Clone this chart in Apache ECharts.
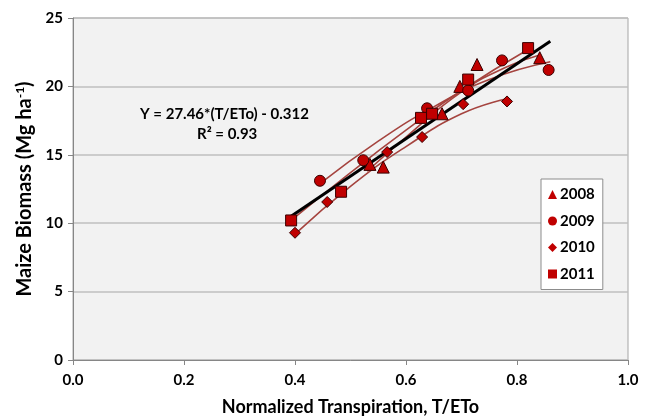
<!DOCTYPE html>
<html>
<head>
<meta charset="utf-8" />
<title>Maize biomass</title>
<script type="text/javascript" src="https://cdn.jsdelivr.net/npm/echarts@6/dist/echarts.min.js"></script>
<style type="text/css">
html, body { margin: 0; width: 100%; height: 100%; background: #fff; }
#main { width: 647px; height: 417px; }
</style>
</head>
<body>
<div id="main"></div>
<script type="text/javascript">
var years = ['2008', '2009', '2010', '2011'];
var symbols = ['triangle', 'circle', 'diamond', 'rect'];
var symbolSizes = [12, 11, 11, 11];

// measured points [T/ETo, biomass]
var pts2008 = [[0.535, 14.3], [0.559, 14.1], [0.665, 18.0], [0.697, 20.0], [0.728, 21.6], [0.841, 22.1]];
var pts2009 = [[0.445, 13.1], [0.523, 14.6], [0.638, 18.4], [0.712, 19.7], [0.773, 21.9], [0.857, 21.2]];
var pts2010 = [[0.400, 9.3], [0.458, 11.55], [0.566, 15.2], [0.629, 16.3], [0.703, 18.7], [0.782, 18.9]];
var pts2011 = [[0.393, 10.2], [0.483, 12.3], [0.627, 17.7], [0.647, 18.0], [0.712, 20.5], [0.820, 22.8]];

// yearly fitted curves
var curve2008 = [[0.53, 13.8], [0.6, 16.3], [0.7, 19.6], [0.78, 21.4], [0.841, 22.3]];
var curve2009 = [[0.445, 12.9], [0.55, 16.0], [0.65, 18.5], [0.75, 20.5], [0.86, 21.8]];
var curve2010 = [[0.40, 9.2], [0.5, 12.7], [0.6, 15.6], [0.7, 18.0], [0.782, 19.1]];
var curve2011 = [[0.393, 10.2], [0.5, 13.7], [0.6, 16.8], [0.7, 19.7], [0.82, 22.7]];

// overall regression line ends
var regLine = [[0.393, 10.5], [0.86, 23.3]];

var xTicks = { min: 0, max: 1, interval: 0.2 };
var yTicks = { min: 0, max: 25, interval: 5 };

var font = 'Lato, "Open Sans", sans-serif';
var chart = echarts.init(document.getElementById('main'));

var allPts = [pts2008, pts2009, pts2010, pts2011];
var allCurves = [curve2008, curve2009, curve2010, curve2011];

var series = [];
allCurves.forEach(function (c, i) {
    series.push({
        name: 'fit' + years[i],
        type: 'line',
        data: c,
        smooth: true,
        symbol: 'none',
        silent: true,
        lineStyle: { color: '#A5443F', width: 1.6 },
        z: 2
    });
});
series.push({
    name: 'all',
    type: 'line',
    data: regLine,
    symbol: 'none',
    silent: true,
    lineStyle: { color: '#000', width: 3 },
    z: 3
});
allPts.forEach(function (p, i) {
    series.push({
        name: years[i],
        type: 'scatter',
        data: p,
        symbol: symbols[i],
        symbolSize: symbolSizes[i],
        itemStyle: { color: '#C00000', borderColor: '#3a0000', borderWidth: 1, opacity: 1 },
        z: 4
    });
});

var option = {
    animation: false,
    backgroundColor: '#fff',
    grid: {
        left: 73, right: 19, top: 18, bottom: 57,
        outerBoundsMode: 'none',
        containLabel: false,
        show: true, backgroundColor: '#F2F2F2', borderColor: '#A6A6A6', borderWidth: 1
    },
    legend: {
        data: years.map(function (y, i) {
            return { name: y, icon: symbols[i], itemStyle: { borderWidth: 0 } };
        }),
        orient: 'vertical',
        left: 541, top: 179,
        width: 58,
        padding: [8, 8, 8, 7],
        itemGap: 11.5,
        itemWidth: 9, itemHeight: 9,
        backgroundColor: '#fff',
        borderColor: '#8c8c8c', borderWidth: 1,
        textStyle: { fontFamily: font, fontWeight: 'bold', fontSize: 15, color: '#000', padding: [0, 0, 0, -2] }
    },
    xAxis: {
        type: 'value',
        min: xTicks.min, max: xTicks.max, interval: xTicks.interval,
        name: 'Normalized Transpiration, T/ETo',
        nameLocation: 'middle', nameGap: 38,
        nameTextStyle: { fontFamily: font, fontWeight: 'bold', fontSize: 18, color: '#000' },
        axisLine: { show: true, lineStyle: { color: '#868686' } },
        axisTick: { show: true, length: 5, lineStyle: { color: '#868686' } },
        axisLabel: {
            fontFamily: font, fontWeight: 'bold', fontSize: 15, color: '#000', margin: 13,
            formatter: function (v) { return v.toFixed(1); }
        },
        splitLine: { show: false }
    },
    yAxis: {
        type: 'value',
        min: yTicks.min, max: yTicks.max, interval: yTicks.interval,
        name: 'Maize Biomass (Mg ha{sup|-1})',
        nameLocation: 'middle', nameGap: 38,
        nameTextStyle: {
            fontFamily: font, fontWeight: 'bold', fontSize: 20, color: '#000',
            rich: { sup: { fontFamily: font, fontWeight: 'bold', fontSize: 12, verticalAlign: 'top', padding: [0, 0, 9, 0] } }
        },
        axisLine: { show: true, lineStyle: { color: '#868686' } },
        axisTick: { show: true, length: 5, lineStyle: { color: '#868686' } },
        axisLabel: { fontFamily: font, fontWeight: 'bold', fontSize: 15, color: '#000', margin: 10 },
        splitLine: { show: true, lineStyle: { color: '#BFBFBF', width: 1.5 } }
    },
    graphic: [{
        type: 'text',
        left: 140, top: 107,
        style: {
            text: 'Y = 27.46*(T/ETo) - 0.312',
            fontFamily: font, fontWeight: 'bold', fontSize: 15, fill: '#000'
        }
    }, {
        type: 'text',
        left: 197, top: 127,
        style: {
            text: 'R² = 0.93',
            fontFamily: font, fontWeight: 'bold', fontSize: 15, fill: '#000'
        }
    }],
    series: series
};

chart.setOption(option);
</script>
</body>
</html>
